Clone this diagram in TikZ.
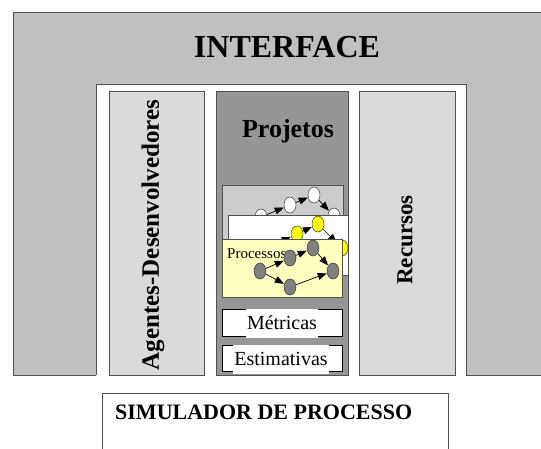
\documentclass[tikz,border=0pt]{standalone}
\usepackage{fontspec}
\setmainfont{Liberation Serif}
\usetikzlibrary{arrows.meta,shapes.geometric}
\definecolor{bggray}{HTML}{C0C0C0}
\definecolor{colgray}{HTML}{DADADA}
\definecolor{midgray}{HTML}{969696}
\definecolor{cardgray}{HTML}{CCCCCC}
\definecolor{cardyellow}{HTML}{FFFFC0}
\definecolor{nodeyellow}{HTML}{FFFF00}
\definecolor{nodegray}{HTML}{808080}
\definecolor{edgegray}{HTML}{505050}
\tikzset{
  panel/.style={draw=edgegray,line width=0.9pt},
  card/.style={draw=edgegray,line width=0.8pt},
  gnode/.style={ellipse,draw=black!80,line width=0.5pt,inner sep=0pt,minimum width=12pt,minimum height=16pt},
  garrow/.style={-{Triangle[length=9pt,width=7pt]},line width=0.7pt,shorten >=0.3pt},
  smallbox/.style={draw=black,line width=0.6pt,fill=white},
  boxtext/.style={fill=white,inner xsep=1pt,inner ysep=0pt,minimum height=29pt,font=\fontsize{20}{20}\selectfont}
}
\begin{document}
\begin{tikzpicture}[x=1pt,y=-1pt]
\useasboundingbox (0,0) rectangle (541,448);
\begin{scope}
\clip (0,0) rectangle (541,448);
% outer interface panel
\draw[panel,fill=bggray] (13,12) rectangle (560,375);
\node[font=\fontsize{32}{32}\selectfont\bfseries] (iface) at (287,47) {INTERFACE};
% inner white area (open at the bottom)
\fill[white] (96,84) rectangle (466,377);
\draw[panel] (96,375) -- (96,84) -- (466,84) -- (466,375);
% columns
\draw[panel,fill=colgray] (109,91) rectangle (204,375);
\draw[panel,fill=midgray] (216,91) rectangle (348,375);
\draw[panel,fill=colgray] (359,91) rectangle (455,375);
\node[rotate=90,font=\fontsize{25}{25}\selectfont\bfseries] (agents) at (153,235) {Agentes-Desenvolvedores};
\node[rotate=90,font=\fontsize{23}{23}\selectfont\bfseries] (rec) at (405,240) {Recursos};
\node[font=\fontsize{26}{26}\selectfont\bfseries] (proj) at (288,131) {Projetos};
% card 1
\draw[card,fill=cardgray] (222,185) rectangle (343,262);
\node[gnode,fill=white] (a1) at (261,217) {};
\node[gnode,fill=white] (a2) at (290,205) {};
\node[gnode,fill=white] (a3) at (314,195) {};
\node[gnode,fill=white] (a4) at (334,216) {};
\draw[garrow] (a1) -- (a2);
\draw[garrow] (a2) -- (a3);
\draw[garrow] (a3) -- (a4);
% card 2
\draw[card,fill=white] (228,215) rectangle (348,275);
\node[gnode,fill=nodeyellow] (b1) at (264,249) {};
\node[gnode,fill=nodeyellow] (b2) at (297,234) {};
\node[gnode,fill=nodeyellow] (b3) at (318,224) {};
\node[gnode,fill=nodeyellow] (b4) at (342,248) {};
\draw[garrow] (b1) -- (b2);
\draw[garrow] (b2) -- (b3);
\draw[garrow] (b3) -- (b4);
% card 3
\draw[card,fill=cardyellow] (222,239) rectangle (342,297);
\node[anchor=base west,inner sep=0pt,font=\fontsize{15}{15}\selectfont] (proc) at (227,258) {Processos};
\node[gnode,fill=nodegray] (c1) at (260,271) {};
\node[gnode,fill=nodegray] (c2) at (290,258) {};
\node[gnode,fill=nodegray] (c3) at (313,248) {};
\node[gnode,fill=nodegray] (c4) at (333,271) {};
\node[gnode,fill=nodegray] (c5) at (290,287) {};
\draw[garrow] (c1) -- (c2);
\draw[garrow] (c2) -- (c3);
\draw[garrow] (c3) -- (c4);
\draw[garrow] (c1) -- (c5);
\draw[garrow] (c5) -- (c4);
% metricas / estimativas
\draw[smallbox] (222,309) rectangle (342,336);
\node[boxtext] (metr) at (282,323) {Métricas};
\draw[smallbox] (222,345) rectangle (342,371);
\node[boxtext] (est) at (281,359) {Estimativas};
% simulator
\draw[line width=0.8pt,draw=edgegray] (102,460) -- (102,393) -- (448,393) -- (448,460);
\node[anchor=base west,inner sep=0pt,font=\fontsize{22}{22}\selectfont\bfseries] (sim) at (115,419) {SIMULADOR DE PROCESSO};
\end{scope}
\end{tikzpicture}
\end{document}
